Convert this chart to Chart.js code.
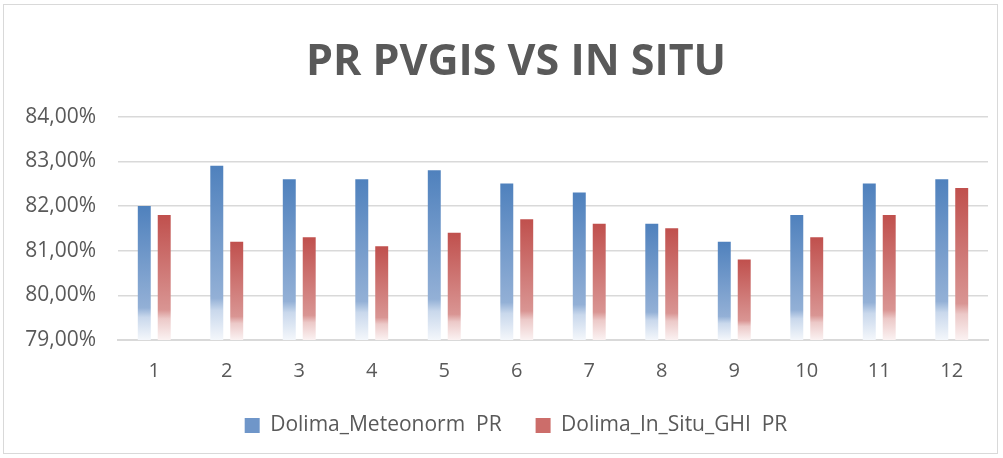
<!DOCTYPE html>
<html>
<head>
<meta charset="utf-8">
<script src="https://cdn.jsdelivr.net/npm/chart.js@4/dist/chart.umd.min.js"></script>
<style>
    html, body {
        margin: 0;
        padding: 0;
        background: #ffffff;
    }

    .frame {
        position: absolute;
        left: 3px;
        top: 4px;
        width: 995px;
        height: 450px;
        border: 1px solid #d9d9d9;
        box-sizing: border-box;
    }

    .chart-box {
        position: absolute;
        left: 0;
        top: 0;
        width: 1003px;
        height: 458px;
    }
</style>
</head>
<body>
<div class="frame"></div>
<div class="chart-box">
    <canvas id="pr-chart"></canvas>
</div>
<script>
const months = ['1', '2', '3', '4', '5', '6', '7', '8', '9', '10', '11', '12'];
const meteonormPr = [82.0, 82.9, 82.6, 82.6, 82.8, 82.5, 82.3, 81.6, 81.2, 81.8, 82.5, 82.6];
const inSituPr = [81.8, 81.2, 81.3, 81.1, 81.4, 81.7, 81.6, 81.5, 80.8, 81.3, 81.8, 82.4];
const yTicks = [79, 80, 81, 82, 83, 84];

const textColor = '#595959';
const fontFamily = "'Open Sans', 'Noto Sans', sans-serif";

function percentTick(value) {
    return `${Number(value).toFixed(2).replace('.', ',')}%`;
}

// Excel style fade: solid at the top, washing out to white near the axis
function barFade(stops, solid) {
    return (ctx) => {
        const chart = ctx.chart;
        const scale = chart.scales.y;
        if (!chart.chartArea || !scale || ctx.raw == null) {
            return solid;
        }
        const top = scale.getPixelForValue(ctx.raw);
        const bottom = scale.getPixelForValue(scale.min);
        const gradient = chart.ctx.createLinearGradient(0, top, 0, bottom);
        stops.forEach(([at, color]) => gradient.addColorStop(at, color));
        return gradient;
    };
}

const blueStops = [[0, '#4f81bd'], [0.76, '#93b0d6'], [0.83, '#c9d8ec'], [1, '#f4f7fb']];
const redStops = [[0, '#c0504d'], [0.76, '#d99593'], [0.83, '#ecc9c8'], [1, '#fbf2f2']];

// title and legend sit a little right of the canvas centre in the original
const centreNudge = {
    id: 'centreNudge',
    afterLayout(chart) {
        [chart.titleBlock, chart.legend].forEach((box) => {
            if (box) {
                box.left += 17;
                box.right += 17;
            }
        });
    },
};

new Chart(document.getElementById('pr-chart').getContext('2d'), {
    type: 'bar',
    data: {
        labels: months,
        datasets: [{
            label: 'Dolima_Meteonorm  PR',
            data: meteonormPr,
            backgroundColor: barFade(blueStops, '#4f81bd'),
            borderWidth: 0,
        }, {
            label: 'Dolima_In_Situ_GHI  PR',
            data: inSituPr,
            backgroundColor: barFade(redStops, '#c0504d'),
            borderWidth: 0,
        }],
    },
    plugins: [centreNudge],
    options: {
        responsive: true,
        maintainAspectRatio: false,
        animation: false,
        categoryPercentage: 0.55,
        barPercentage: 0.65,
        layout: {
            padding: {
                top: 37,
                right: 15,
                bottom: 12,
                left: 10,
            },
        },
        plugins: {
            title: {
                display: true,
                text: 'PR PVGIS VS IN SITU',
                color: textColor,
                font: {
                    family: fontFamily,
                    size: 43,
                    weight: 700,
                },
                padding: {
                    top: 0,
                    bottom: 28,
                },
            },
            legend: {
                display: true,
                position: 'bottom',
                labels: {
                    color: textColor,
                    boxWidth: 15,
                    boxHeight: 15,
                    padding: 34,
                    font: {
                        family: fontFamily,
                        size: 21,
                    },
                    generateLabels: (chart) => chart.data.datasets.map((ds, i) => ({
                        text: ds.label,
                        fillStyle: i === 0 ? '#6f96c9' : '#cc6d6a',
                        strokeStyle: 'rgba(0,0,0,0)',
                        lineWidth: 0,
                        fontColor: textColor,
                        datasetIndex: i,
                        hidden: false,
                    })),
                },
            },
            tooltip: {
                enabled: false,
            },
        },
        scales: {
            x: {
                afterFit: (scale) => {
                    scale.height = 41;
                },
                grid: {
                    display: false,
                },
                border: {
                    color: '#d9d9d9',
                    width: 2,
                },
                ticks: {
                    color: textColor,
                    padding: 13,
                    font: {
                        family: fontFamily,
                        size: 20,
                        lineHeight: 1,
                    },
                },
            },
            y: {
                min: 79,
                max: 84,
                afterBuildTicks: (scale) => {
                    scale.ticks = yTicks.map((value) => ({ value }));
                },
                afterFit: (scale) => {
                    scale.width = 108;
                },
                border: {
                    display: false,
                },
                grid: {
                    color: '#d9d9d9',
                    lineWidth: 1.5,
                    drawTicks: false,
                },
                ticks: {
                    color: textColor,
                    padding: 22,
                    callback: percentTick,
                    font: {
                        family: fontFamily,
                        size: 21,
                    },
                },
            },
        },
    },
});
</script>
</body>
</html>
